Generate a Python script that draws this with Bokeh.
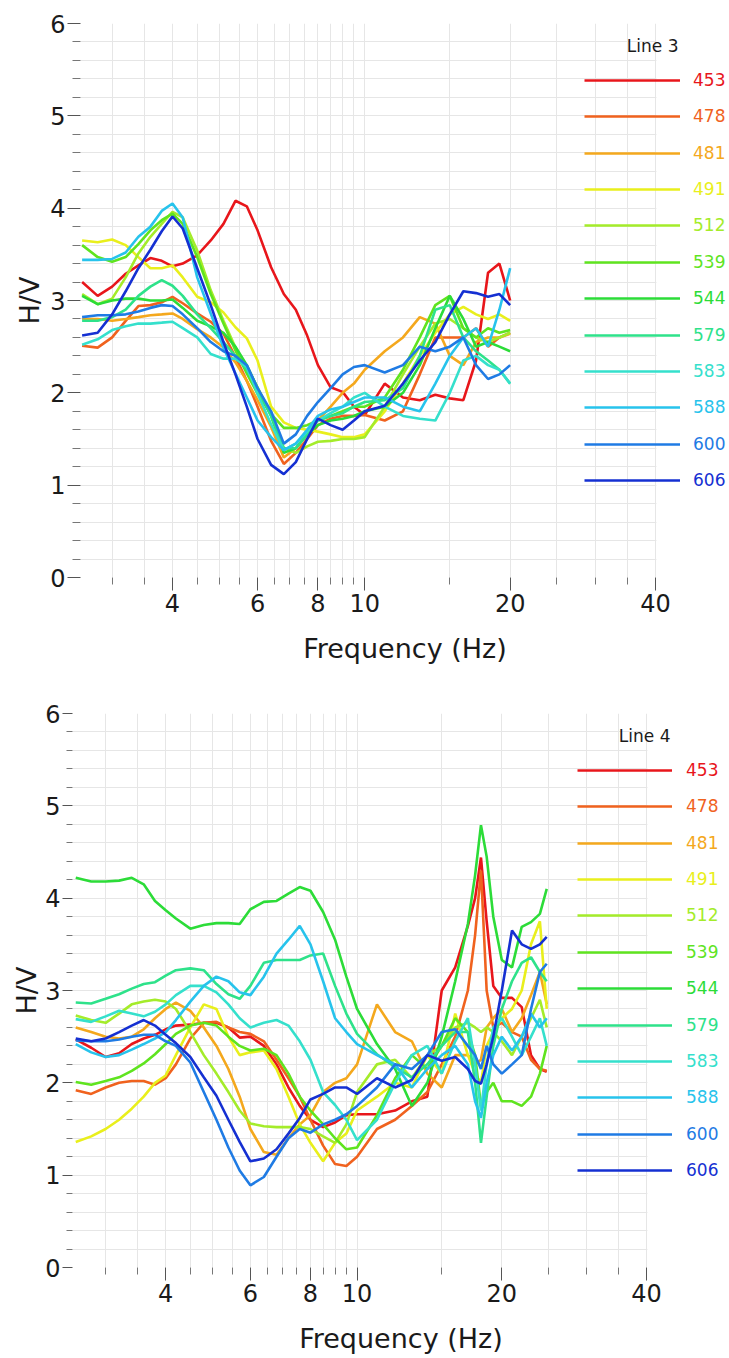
from bokeh.plotting import figure
from bokeh.models import (FixedTicker, PrintfTickFormatter, Legend, LegendItem, Label,
                          Range1d, BoxAnnotation)
from bokeh.embed import file_html
from bokeh.resources import INLINE

# ---------------- data ----------------
STATIONS = ["453", "478", "481", "491", "512", "539", "544", "579", "583", "588", "600", "606"]
COLORS = ["#e8161b", "#f0621e", "#f4a81d", "#e9ef1c", "#a4ec2a", "#5fe41f",
          "#2cdc38", "#2ee28a", "#35e0cc", "#27c3ec", "#1f7be4", "#1530d2"]

X_MAJOR = [4, 6, 8, 10, 20, 40]
X_MINOR = [3, 3.5, 4.5, 5, 5.5, 6.5, 7, 7.5, 8.5, 9, 9.5, 15, 25, 30, 35]
X_MAX_TICK = 40

# Line 3
FREQ_L3 = [2.6, 2.8, 3.0, 3.2, 3.4, 3.6, 3.8, 4.0, 4.2, 4.5, 4.8, 5.1, 5.4, 5.7, 6.0,
           6.4, 6.8, 7.2, 7.6, 8.0, 8.5, 9.0, 9.5, 10,
           11, 12, 13, 14, 15, 16, 17, 18, 19, 20]
L3_453 = [3.20, 3.05, 3.15, 3.29, 3.38, 3.46, 3.43, 3.37, 3.40, 3.49, 3.65, 3.83, 4.08, 4.02, 3.76,
          3.36, 3.07, 2.90, 2.62, 2.30, 2.06, 2.01, 1.85, 1.76,
          2.10, 1.95, 1.92, 1.98, 1.94, 1.92, 2.35, 3.30, 3.40, 3.00]
L3_478 = [2.51, 2.49, 2.60, 2.78, 2.94, 2.95, 2.98, 3.04, 2.97, 2.86, 2.77, 2.64, 2.39, 2.13, 1.85,
          1.48, 1.23, 1.35, 1.50, 1.65, 1.72, 1.75, 1.75, 1.76,
          1.70, 1.80, 2.20, 2.60, 2.60, 2.60, 2.70, 2.50, 2.60, 2.65]
L3_481 = [2.80, 2.80, 2.78, 2.80, 2.82, 2.84, 2.85, 2.86, 2.80, 2.69, 2.60, 2.49, 2.33, 2.13, 1.92,
          1.63, 1.30, 1.40, 1.55, 1.70, 1.85, 2.00, 2.10, 2.25,
          2.45, 2.60, 2.82, 2.75, 2.40, 2.30, 2.55, 2.60, 2.60, 2.64]
L3_491 = [3.65, 3.63, 3.66, 3.60, 3.47, 3.35, 3.35, 3.38, 3.25, 3.04, 2.98, 2.87, 2.71, 2.59, 2.35,
          1.85, 1.68, 1.62, 1.60, 1.58, 1.55, 1.52, 1.52, 1.55,
          1.80, 2.10, 2.40, 2.65, 2.85, 2.93, 2.85, 2.80, 2.85, 2.78]
L3_512 = [3.07, 2.96, 3.02, 3.25, 3.51, 3.69, 3.83, 3.96, 3.90, 3.54, 3.11, 2.78, 2.49, 2.28, 2.06,
          1.77, 1.40, 1.35, 1.42, 1.47, 1.48, 1.50, 1.50, 1.52,
          1.85, 2.20, 2.50, 2.75, 2.80, 2.70, 2.60, 2.55, 2.60, 2.65]
L3_539 = [3.60, 3.47, 3.42, 3.47, 3.61, 3.76, 3.87, 3.94, 3.83, 3.47, 3.07, 2.75, 2.46, 2.21, 1.99,
          1.77, 1.62, 1.62, 1.65, 1.70, 1.75, 1.80, 1.85, 1.85,
          1.95, 2.25, 2.60, 2.95, 3.05, 2.70, 2.60, 2.70, 2.65, 2.68]
L3_544 = [3.05, 2.96, 3.00, 3.02, 3.02, 3.00, 3.00, 3.01, 2.92, 2.78, 2.72, 2.65, 2.50, 2.30, 2.05,
          1.75, 1.35, 1.40, 1.55, 1.65, 1.70, 1.72, 1.75, 1.80,
          1.85, 2.00, 2.30, 2.70, 3.05, 2.80, 2.50, 2.55, 2.50, 2.45]
L3_579 = [2.78, 2.78, 2.82, 2.90, 3.05, 3.15, 3.22, 3.16, 3.05, 2.85, 2.70, 2.55, 2.40, 2.25, 2.05,
          1.75, 1.40, 1.40, 1.55, 1.70, 1.75, 1.78, 1.85, 1.90,
          1.92, 2.05, 2.40, 2.90, 2.95, 2.60, 2.45, 2.35, 2.25, 2.10]
L3_583 = [2.52, 2.58, 2.68, 2.72, 2.75, 2.75, 2.76, 2.77, 2.70, 2.60, 2.42, 2.37, 2.37, 2.28, 1.99,
          1.66, 1.38, 1.45, 1.58, 1.70, 1.78, 1.85, 1.95, 2.00,
          1.85, 1.75, 1.72, 1.70, 2.00, 2.35, 2.40, 2.30, 2.25, 2.10]
L3_588 = [3.44, 3.44, 3.45, 3.52, 3.69, 3.80, 3.97, 4.05, 3.90, 3.25, 2.86, 2.49, 2.21, 1.95, 1.70,
          1.52, 1.38, 1.45, 1.60, 1.75, 1.82, 1.85, 1.90, 1.95,
          1.95, 1.85, 1.80, 2.10, 2.40, 2.60, 2.70, 2.50, 2.90, 3.35]
L3_600 = [2.82, 2.84, 2.84, 2.85, 2.88, 2.92, 2.95, 2.94, 2.85, 2.70, 2.55, 2.45, 2.40, 2.30, 2.05,
          1.80, 1.45, 1.55, 1.75, 1.90, 2.05, 2.20, 2.28, 2.30,
          2.22, 2.30, 2.50, 2.45, 2.50, 2.60, 2.30, 2.15, 2.20, 2.30]
L3_606 = [2.62, 2.65, 2.85, 3.10, 3.35, 3.55, 3.75, 3.91, 3.78, 3.35, 2.95, 2.55, 2.20, 1.85, 1.50,
          1.22, 1.12, 1.25, 1.50, 1.72, 1.65, 1.60, 1.70, 1.80,
          1.86, 2.10, 2.35, 2.55, 2.85, 3.10, 3.08, 3.04, 3.07, 2.95]

# Line 4
FREQ_L4 = [2.6, 2.8, 3.0, 3.2, 3.4, 3.6, 3.8, 4.0, 4.2, 4.5, 4.8, 5.1, 5.4, 5.7, 6.0,
           6.4, 6.8, 7.2, 7.6, 8.0, 8.5, 9.0, 9.5, 10,
           11, 12, 13, 14, 15, 16, 17,
           17.6, 18.1, 18.6, 19.2,
           20, 21, 22, 23, 24, 24.8]
L4_453 = [2.47, 2.38, 2.28, 2.32, 2.42, 2.48, 2.52, 2.58, 2.62, 2.63, 2.65, 2.65, 2.60, 2.49, 2.50,
          2.40, 2.20, 1.95, 1.75, 1.60, 1.52, 1.57, 1.65, 1.66,
          1.66, 1.70, 1.80, 1.85, 3.00, 3.25, 3.70,
          4.00, 4.44, 3.75, 3.05,
          2.92, 2.92, 2.82, 2.30, 2.15, 2.12]
L4_478 = [1.92, 1.88, 1.95, 2.00, 2.02, 2.02, 1.98, 2.05, 2.20, 2.48, 2.65, 2.66, 2.60, 2.55, 2.53,
          2.45, 2.25, 2.05, 1.85, 1.60, 1.32, 1.12, 1.10, 1.20,
          1.50, 1.60, 1.75, 1.90, 2.20, 2.50, 3.00,
          3.60, 4.30, 3.00, 2.60,
          2.65, 2.55, 2.50, 2.25, 2.15, 2.13]
L4_481 = [2.60, 2.55, 2.50, 2.48, 2.50, 2.58, 2.70, 2.80, 2.87, 2.78, 2.60, 2.40, 2.15, 1.85, 1.50,
          1.25, 1.22, 1.40, 1.55, 1.65, 1.90, 2.00, 2.05, 2.20,
          2.85, 2.55, 2.45, 2.10, 1.95, 2.30, 2.30,
          2.20, 2.25, 2.60, 2.70,
          2.80, 2.55, 2.70, 2.95, 3.20, 2.85]
L4_491 = [1.36, 1.42, 1.50, 1.60, 1.72, 1.85, 2.00, 2.08, 2.30, 2.60, 2.85, 2.80, 2.50, 2.30, 2.33,
          2.35, 2.15, 1.85, 1.55, 1.35, 1.15, 1.35, 1.45, 1.70,
          1.85, 2.00, 1.95, 2.30, 2.10, 2.75, 2.30,
          2.10, 2.00, 2.40, 2.55,
          2.70, 2.80, 3.00, 3.50, 3.75, 2.80]
L4_512 = [2.73, 2.68, 2.65, 2.75, 2.85, 2.88, 2.90, 2.88, 2.80, 2.55, 2.30, 2.10, 1.90, 1.70, 1.56,
          1.53, 1.52, 1.52, 1.52, 1.50, 1.42, 1.35, 1.55, 1.90,
          2.20, 2.25, 2.05, 2.30, 2.40, 2.60, 2.65,
          2.60, 2.55, 2.60, 2.55,
          2.45, 2.30, 2.50, 2.70, 2.90, 2.60]
L4_539 = [2.01, 1.98, 2.02, 2.06, 2.13, 2.21, 2.31, 2.42, 2.53, 2.62, 2.65, 2.62, 2.50, 2.40, 2.35,
          2.37, 2.30, 2.10, 1.85, 1.70, 1.55, 1.40, 1.28, 1.30,
          1.65, 2.05, 2.30, 2.15, 2.40, 2.70, 2.55,
          2.30, 1.75, 1.90, 2.00,
          1.80, 1.80, 1.75, 1.85, 2.10, 2.40]
L4_544 = [4.22, 4.18, 4.18, 4.19, 4.22, 4.15, 3.97, 3.87, 3.78, 3.67, 3.71, 3.73, 3.73, 3.72, 3.88,
          3.96, 3.97, 4.05, 4.12, 4.08, 3.85, 3.55, 3.15, 2.80,
          2.42, 2.15, 1.75, 2.00, 2.50, 3.10, 3.72,
          4.25, 4.79, 4.45, 3.80,
          3.33, 3.25, 3.69, 3.74, 3.83, 4.10]
L4_579 = [2.87, 2.86, 2.91, 2.96, 3.02, 3.07, 3.09, 3.16, 3.22, 3.24, 3.22, 3.07, 2.96, 2.91, 3.05,
          3.30, 3.33, 3.33, 3.33, 3.38, 3.40, 3.05, 2.75, 2.53,
          2.31, 2.17, 2.06, 2.20, 2.40, 2.55, 2.55,
          2.00, 1.35, 1.85, 2.40,
          2.80, 3.10, 3.30, 3.36, 3.20, 3.10]
L4_583 = [2.69, 2.66, 2.72, 2.78, 2.75, 2.72, 2.77, 2.85, 2.95, 3.05, 3.05, 2.98, 2.85, 2.70, 2.60,
          2.65, 2.68, 2.62, 2.45, 2.25, 1.90, 1.76, 1.60, 1.38,
          1.60, 2.00, 2.30, 2.40, 2.10, 2.45, 2.70,
          2.20, 1.70, 2.20, 2.60,
          2.70, 2.50, 2.30, 2.50, 2.70, 2.40]
L4_588 = [2.42, 2.33, 2.28, 2.30, 2.36, 2.42, 2.48, 2.55, 2.68, 2.88, 3.05, 3.15, 3.10, 2.98, 2.95,
          3.15, 3.40, 3.55, 3.70, 3.50, 3.10, 2.70, 2.55, 2.42,
          2.30, 2.20, 1.95, 2.15, 2.30, 2.40, 2.20,
          1.80, 1.62, 2.00, 2.30,
          2.50, 2.35, 2.50, 2.75, 2.60, 2.70]
L4_600 = [2.46, 2.45, 2.45, 2.47, 2.50, 2.52, 2.52, 2.45, 2.40, 2.22, 1.90, 1.60, 1.30, 1.05, 0.89,
          0.98, 1.20, 1.40, 1.50, 1.46, 1.55, 1.60, 1.66, 1.75,
          1.95, 2.20, 2.15, 2.30, 2.55, 2.58, 2.40,
          2.30, 2.15, 2.40, 2.20,
          2.10, 2.20, 2.30, 2.80, 3.20, 3.29]
L4_606 = [2.48, 2.45, 2.48, 2.55, 2.62, 2.68, 2.62, 2.52, 2.43, 2.28, 2.06, 1.86, 1.60, 1.36, 1.15,
          1.18, 1.28, 1.45, 1.62, 1.82, 1.88, 1.95, 1.95, 1.88,
          2.05, 1.95, 2.03, 2.30, 2.24, 2.28, 2.15,
          2.02, 1.99, 2.20, 2.50,
          3.00, 3.65, 3.50, 3.45, 3.50, 3.58]

LINE3 = [L3_453, L3_478, L3_481, L3_491, L3_512, L3_539, L3_544, L3_579, L3_583, L3_588, L3_600, L3_606]
LINE4 = [L4_453, L4_478, L4_481, L4_491, L4_512, L4_539, L4_544, L4_579, L4_583, L4_588, L4_600, L4_606]

FONT = "DejaVu Sans"
PAGE_W = 729


def make_fig(freq, series, title, x_start, x_end, border_left, border_top, border_bottom,
             ytick_major, ytick_minor, ylab_standoff, leg_x, leg_top, leg_glyph_w, leg_standoff):
    fw = PAGE_W - border_left
    p = figure(x_axis_type="log", output_backend="svg", toolbar_location=None,
               frame_width=fw, frame_height=554,
               min_border_left=border_left, min_border_right=0,
               min_border_top=border_top, min_border_bottom=border_bottom,
               x_range=Range1d(x_start, x_end), y_range=Range1d(0, 6))
    p.outline_line_color = None
    p.background_fill_color = "white"
    p.border_fill_color = "white"

    # axes
    p.xaxis.ticker = FixedTicker(ticks=X_MAJOR, minor_ticks=X_MINOR)
    p.xaxis.formatter = PrintfTickFormatter(format="%d")
    p.yaxis.ticker = FixedTicker(ticks=[0, 1, 2, 3, 4, 5, 6],
                                 minor_ticks=[i / 5 for i in range(31) if i % 5])
    for ax in (p.xaxis[0], p.yaxis[0]):
        ax.axis_line_color = None
        ax.major_tick_in = 0
        ax.minor_tick_in = 0
        ax.major_tick_line_color = "#555555"
        ax.minor_tick_line_color = "#777777"
        ax.major_label_text_font = FONT
        ax.major_label_text_font_size = "24px"
        ax.major_label_text_color = "#1a1a1a"
        ax.axis_label_text_font = FONT
        ax.axis_label_text_font_size = "27px"
        ax.axis_label_text_font_style = "normal"
        ax.axis_label_text_color = "#1a1a1a"
    p.xaxis.major_tick_out = 13
    p.xaxis.minor_tick_out = 7
    p.xaxis.major_label_standoff = 3
    p.xaxis.axis_label = "Frequency (Hz)"
    p.xaxis.axis_label_standoff = 18
    p.yaxis.major_tick_out = ytick_major
    p.yaxis.minor_tick_out = ytick_minor
    p.yaxis.major_label_standoff = 2
    p.yaxis.axis_label = "H/V"
    p.yaxis.axis_label_standoff = ylab_standoff

    # grids
    p.xgrid.ticker = FixedTicker(ticks=X_MAJOR + X_MINOR)
    p.ygrid.ticker = FixedTicker(ticks=[i / 5 for i in range(31)])
    for g in (p.xgrid[0], p.ygrid[0]):
        g.grid_line_color = "#e6e6e6"
        g.grid_line_width = 1
    # blank area to the right of the last frequency tick (legend zone)
    p.add_layout(BoxAnnotation(left=X_MAX_TICK * 1.004, fill_color="white", fill_alpha=1,
                               line_color=None, level="underlay"))

    # lines + per-item legends
    step = 36.36
    for i, (name, col, vals) in enumerate(zip(STATIONS, COLORS, series)):
        r = p.line(freq, vals, line_color=col, line_width=2.6)
        yc = leg_top + step * i          # item centre, px below frame top
        leg = Legend(items=[LegendItem(label=name, renderers=[r])],
                     location=(leg_x, 554 - yc - 12),
                     padding=0, margin=0, spacing=0,
                     glyph_width=leg_glyph_w, glyph_height=24, label_height=24,
                     label_standoff=leg_standoff,
                     label_text_font=FONT, label_text_font_size="17px",
                     label_text_color=col,
                     border_line_color=None, background_fill_alpha=0)
        p.add_layout(leg, "center")
    p.add_layout(Label(x=leg_x + leg_glyph_w - 2, y=554 - (leg_top - 35),
                       x_units="screen", y_units="screen",
                       text=title, text_align="right", text_baseline="middle",
                       text_font=FONT, text_font_size="17px", text_color="#1a1a1a"))
    return p


p1 = make_fig(FREQ_L3, LINE3, "Line 3", 2.58, 56.9, 80, 23, 103, 13, 8, 2, 504, 57, 96, 13)
p2 = make_fig(FREQ_L4, LINE4, "Line 4", 2.56, 59.5, 72, 33, 89, 10, 6, 0, 505, 57, 95, 14)

open("out.html", "w").write(file_html([p1, p2], INLINE))
